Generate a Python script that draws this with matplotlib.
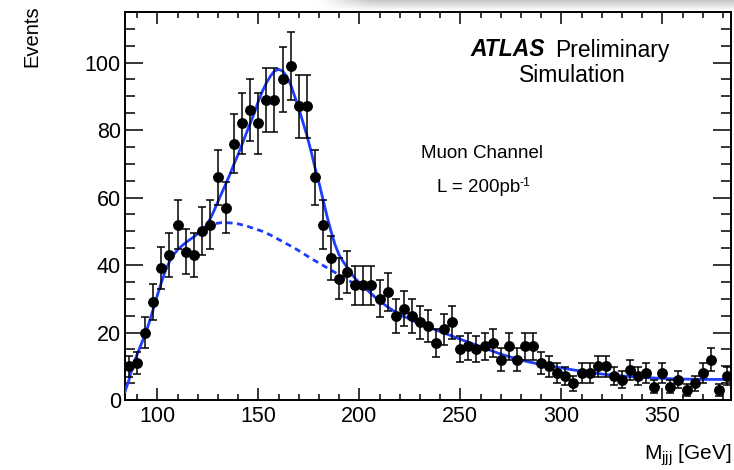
import numpy as np
import matplotlib
matplotlib.use('Agg')
import matplotlib.pyplot as plt
from matplotlib.ticker import MultipleLocator

plt.rcParams['font.family'] = ['Liberation Sans', 'DejaVu Sans']
plt.rcParams['mathtext.fontset'] = 'custom'
plt.rcParams['mathtext.rm'] = 'Liberation Sans'
plt.rcParams['mathtext.it'] = 'Liberation Sans:italic'

# measured histogram (4 GeV bins, 84-384 GeV)
bin_lo, bin_hi, bin_w = 84, 384, 4
counts = [10, 11, 20, 29, 39, 43, 52, 44, 43, 50, 52, 66, 57, 76, 82, 86, 82, 89, 89, 95,
          99, 87, 87, 66, 52, 42, 36, 38, 34, 34, 34, 30, 32, 25, 27, 25, 23, 22, 17, 21,
          23, 15, 16, 15, 16, 17, 12, 16, 12, 16, 16, 11, 10, 8, 7, 5, 8, 8, 10, 10,
          7, 6, 9, 7, 8, 4, 8, 4, 6, 3, 5, 8, 12, 3, 7]

# fitted signal + background (solid)
fit_m = [84, 86, 88, 90, 92, 94, 96, 98, 100, 102, 104, 106, 108, 110, 112, 114, 116, 118,
         120, 122, 124, 126, 128, 130, 132, 134, 136, 138, 140, 142, 144, 146, 148, 150,
         152, 154, 156, 158, 160, 162, 164, 166, 168, 170, 172, 174, 176, 178, 180, 182,
         184, 186, 188, 190, 192, 194, 196, 198, 200, 205, 210, 215, 220, 225, 230, 240,
         250, 260, 270, 280, 290, 300, 310, 320, 330, 340, 350, 360, 370, 384]
fit_v = [2.5, 6, 10.5, 13.5, 16.5, 19.5, 23, 27, 31, 34.8, 38.3, 41, 43, 44.5, 45.6, 46.6,
         47.5, 48.3, 49.3, 50.3, 51.5, 53.5, 56, 58.8, 61.5, 64.2, 67, 70, 72.8, 75.8, 79,
         82, 85, 88.5, 91.5, 94, 96, 97.5, 98, 97.5, 96, 93.5, 90, 86.5, 82.5, 78.5, 74,
         69, 64.5, 59.5, 54.5, 50, 46, 43, 41, 39.3, 37.5, 36, 34.8, 32, 29.3, 27.2, 25.3,
         24, 22.5, 20.3, 18, 15.8, 13.6, 11.8, 10.5, 9.5, 8.5, 7.7, 7.1, 6.7, 6.4, 6.2,
         6.1, 6.1]

# background only (dashed)
bkg_m = [124, 128, 132, 136, 140, 144, 148, 152, 156, 160, 164, 168, 172, 176, 180, 184,
         188, 192, 196, 200]
bkg_v = [51.5, 52.2, 52.6, 52.5, 52.2, 51.6, 50.8, 50.0, 48.9, 47.6, 46.3, 45.0, 43.5,
         42.0, 40.6, 39.2, 37.8, 36.3, 35.0, 34.3]

centers = np.arange(bin_lo + bin_w / 2, bin_hi, bin_w)
counts = np.array(counts, dtype=float)
errors = np.sqrt(counts)

fig = plt.figure(figsize=(7.34, 4.70), dpi=100)
ax = fig.add_axes([125 / 734, 70 / 470, 606 / 734, 388 / 470])

# soft shadow along the top edge
shade = fig.add_axes([318 / 734, 1 - 11 / 470, 416 / 734, 11 / 470], zorder=-5)
gy = np.linspace(0.78, 1.0, 20)[:, None]
gx = np.clip(np.linspace(0, 1, 200) * 8, 0, 1)[None, :]
shade.imshow(1 - (1 - gy) * gx, cmap='gray', vmin=0, vmax=1, aspect='auto')
shade.axis('off')

blue = '#1f3dff'
ax.plot(bkg_m, bkg_v, color=blue, lw=2.0, ls=(0, (2.2, 1.6)), zorder=2)
ax.plot(fit_m, fit_v, color=blue, lw=2.0, zorder=3)
ax.errorbar(centers, counts, yerr=errors, fmt='o', color='black', ms=6.8,
            elinewidth=1.1, capsize=2.8, capthick=1.1, zorder=4)

ax.set_xlim(bin_lo, bin_hi)
ax.set_ylim(0, 115)
ax.xaxis.set_major_locator(MultipleLocator(50))
ax.xaxis.set_minor_locator(MultipleLocator(10))
ax.yaxis.set_major_locator(MultipleLocator(20))
ax.yaxis.set_minor_locator(MultipleLocator(5))
ax.tick_params(which='both', direction='in', top=True, right=True, width=1.1,
               labelsize=15.5, colors='black')
ax.tick_params(axis='x', which='major', length=8.6, pad=4)
ax.tick_params(axis='x', which='minor', length=4.3)
ax.tick_params(axis='y', which='major', length=13, pad=3)
ax.tick_params(axis='y', which='minor', length=7)
for sp in ax.spines.values():
    sp.set_linewidth(1.4)

fig.text(32 / 734, 1 - 5 / 470, 'Events', rotation=90, ha='center', va='top', fontsize=14.5)
fig.text(731 / 734, 1 - 455 / 470, r'M$_{\rm jjj}$ [GeV]', ha='right', va='center',
         fontsize=15)

fig.text(545 / 734, 1 - 50 / 470, 'ATLAS', ha='right', va='center', fontsize=16.5,
         fontweight='bold', style='italic')
fig.text(555 / 734, 1 - 50 / 470, 'Preliminary', ha='left', va='center', fontsize=16.5)
fig.text(572 / 734, 1 - 76 / 470, 'Simulation', ha='center', va='center', fontsize=16.5)
fig.text(482 / 734, 1 - 153 / 470, 'Muon Channel', ha='center', va='center', fontsize=13.5)
fig.text(520 / 734, 1 - 188 / 470, 'L = 200pb', ha='right', va='center', fontsize=13.5)
fig.text(520 / 734, 1 - 183 / 470, '-1', ha='left', va='center', fontsize=9)

fig.savefig('out.png', dpi=100)
